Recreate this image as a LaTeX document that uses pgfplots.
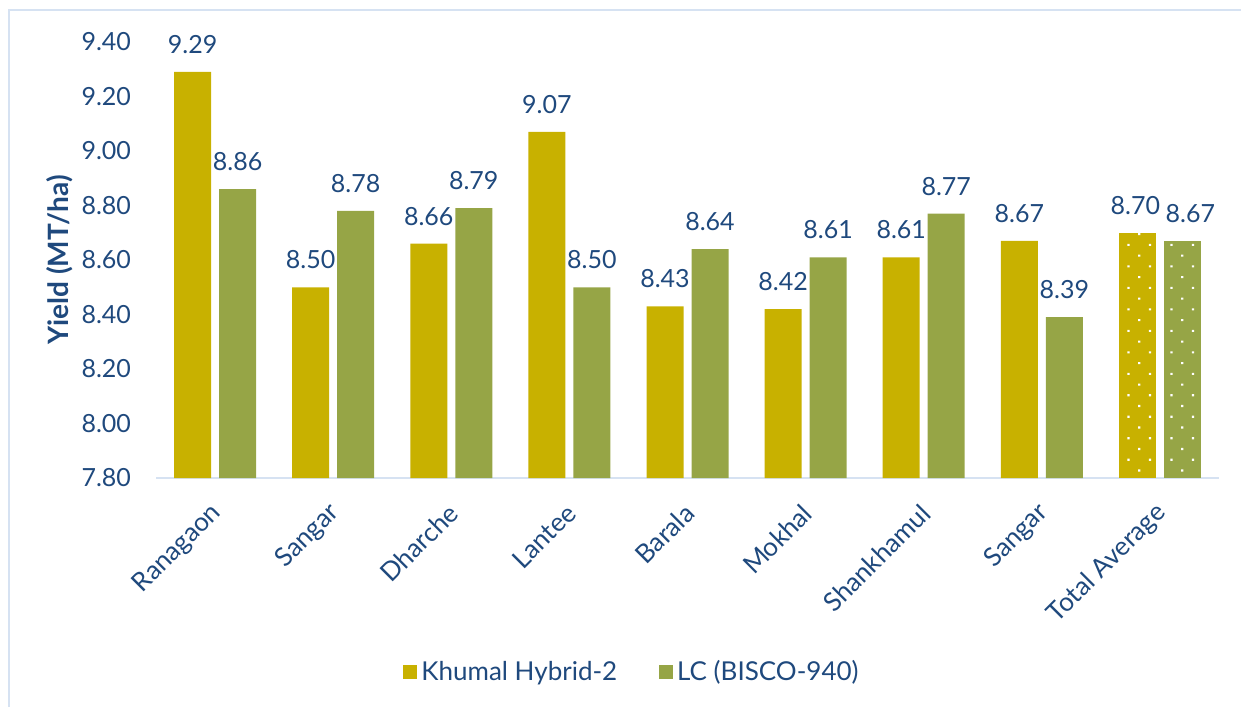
\documentclass[border=0pt]{standalone}
\usepackage{fontspec}
\setmainfont{Lato}
\usepackage{pgfplots}
\pgfplotsset{compat=1.18}
\usetikzlibrary{patterns.meta}
\definecolor{kgold}{HTML}{C8B100}
\definecolor{lcgreen}{HTML}{96A546}
\definecolor{navytxt}{HTML}{1F497D}
\definecolor{framec}{HTML}{D6E2F2}
\begin{document}
\begin{tikzpicture}[x=1pt,y=1pt]
\useasboundingbox (0,0) rectangle (620.5,353.5);
\draw[framec, line width=1.2pt] (4.5,0) -- (4.5,348.5) -- (620.5,348.5);
\begin{axis}[
  at={(78pt,114.5pt)}, anchor=south west,
  scale only axis, width=531.5pt, height=218pt,
  xmin=-0.5, xmax=8.5, ymin=7.8, ymax=9.4,
  ytick={7.8,8.0,8.2,8.4,8.6,8.8,9.0,9.2,9.4},
  yticklabel style={xshift=-9pt, font=\fontsize{12.5}{14}\selectfont, /pgf/number format/.cd, fixed, fixed zerofill, precision=2, assume math mode=true},
  xtick={0,1,2,3,4,5,6,7,8},
  xticklabels={Ranagaon,Sangar,Dharche,Lantee,Barala,Mokhal,Shankhamul,Sangar,Total Average},
  xticklabel style={xshift=3.5pt, yshift=-13pt, rotate=45, anchor=east, font=\fontsize{13}{15}\selectfont},
  tick label style={text=navytxt},
  axis x line*=bottom, axis y line*=left,
  y axis line style={draw=none},
  x axis line style={draw=framec, line width=1pt},
  major tick length=0pt,
  ylabel={\textbf{Yield (MT/ha)}},
  ylabel style={at={(axis description cs:-0.0903,0.5)}, anchor=center, font=\fontsize{14}{16}\selectfont, text=navytxt},
  ybar, bar width=18.5pt,
  nodes near coords={\pgfmathprintnumber[fixed,fixed zerofill,precision=2,assume math mode=true]{\pgfplotspointmeta}},
  nodes near coords style={anchor=south, inner sep=0pt, yshift=9pt, font=\fontsize{12.5}{14}\selectfont, text=navytxt},
  legend columns=2,
  legend style={at={(0.4487,-0.445)}, anchor=center, draw=none, fill=none,
    font=\fontsize{13}{15}\selectfont, text=navytxt,
    /tikz/every even column/.append style={column sep=19pt}},
  legend image code/.code={\fill[#1, draw=none] (0pt,-3.5pt) rectangle (7pt,3.5pt);},
]
\addplot[fill=kgold, draw=none, bar shift=-11.25pt] coordinates {(0,9.29) (1,8.50) (2,8.66) (3,9.07) (4,8.43) (5,8.42) (6,8.61) (7,8.67)};
\addplot[fill=lcgreen, draw=none, bar shift=11.25pt] coordinates {(0,8.86) (1,8.78) (2,8.79) (3,8.50) (4,8.64) (5,8.61) (6,8.77) (7,8.39)};
\addplot[fill=kgold, draw=none, bar shift=-11.25pt, forget plot,
  nodes near coords style={xshift=-1pt},
  postaction={pattern={Dots[radius=0.75pt, distance=7.6pt, angle=45]}, pattern color=white}] coordinates {(8,8.70)};
\addplot[fill=lcgreen, draw=none, bar shift=11.25pt, forget plot,
  nodes near coords style={xshift=4pt},
  postaction={pattern={Dots[radius=0.75pt, distance=7.6pt, angle=45]}, pattern color=white}] coordinates {(8,8.67)};
\legend{Khumal Hybrid-2, LC (BISCO-940)}
\end{axis}
\end{tikzpicture}
\end{document}
